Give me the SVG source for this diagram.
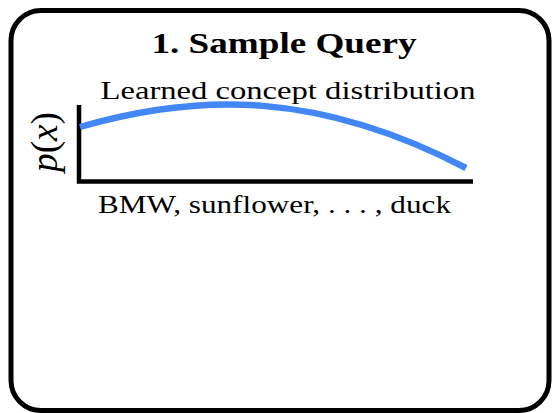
<svg xmlns="http://www.w3.org/2000/svg" width="555" height="413" viewBox="0 0 555 413">
  <style>
    .frame { fill: #ffffff; stroke: #000000; stroke-width: 5; }
    .title { font-family: "Liberation Serif", "DejaVu Serif", serif; font-weight: bold; font-size: 30px; fill: #000000; }
    .label { font-family: "Liberation Serif", "DejaVu Serif", serif; font-size: 26px; fill: #000000; }
    .math { font-family: "Liberation Serif", "DejaVu Serif", serif; font-size: 38px; fill: #000000; }
    .axis { fill: none; stroke: #000000; stroke-width: 4.5; }
    .density { fill: none; stroke: #4287f5; stroke-width: 6.5; }
  </style>
  <rect width="555" height="413" fill="#ffffff"/>

  <g id="panel">
    <rect class="frame" x="11" y="10.5" width="538" height="400" rx="30" ry="30"/>
    <text class="title" x="284" y="53" text-anchor="middle" textLength="265" lengthAdjust="spacingAndGlyphs">1. Sample Query</text>
  </g>

  <g id="plot">
    <text class="label" x="288" y="99" text-anchor="middle" textLength="375" lengthAdjust="spacingAndGlyphs">Learned concept distribution</text>
    <!-- y-axis label, rotated to read bottom-up -->
    <text class="math" transform="translate(57 142) rotate(-90)" text-anchor="middle" textLength="60" lengthAdjust="spacingAndGlyphs"><tspan font-style="italic">p</tspan>(<tspan font-style="italic">x</tspan>)</text>
    <!-- axes -->
    <path class="axis" d="M79 105 V181.5 H473"/>
    <!-- density curve -->
    <path class="density" d="M80 127 C200 92 320 92 466 168"/>
    <text class="label" x="274.5" y="213" text-anchor="middle" textLength="353" lengthAdjust="spacingAndGlyphs">BMW, sunflower, . . . , duck</text>
  </g>
</svg>
